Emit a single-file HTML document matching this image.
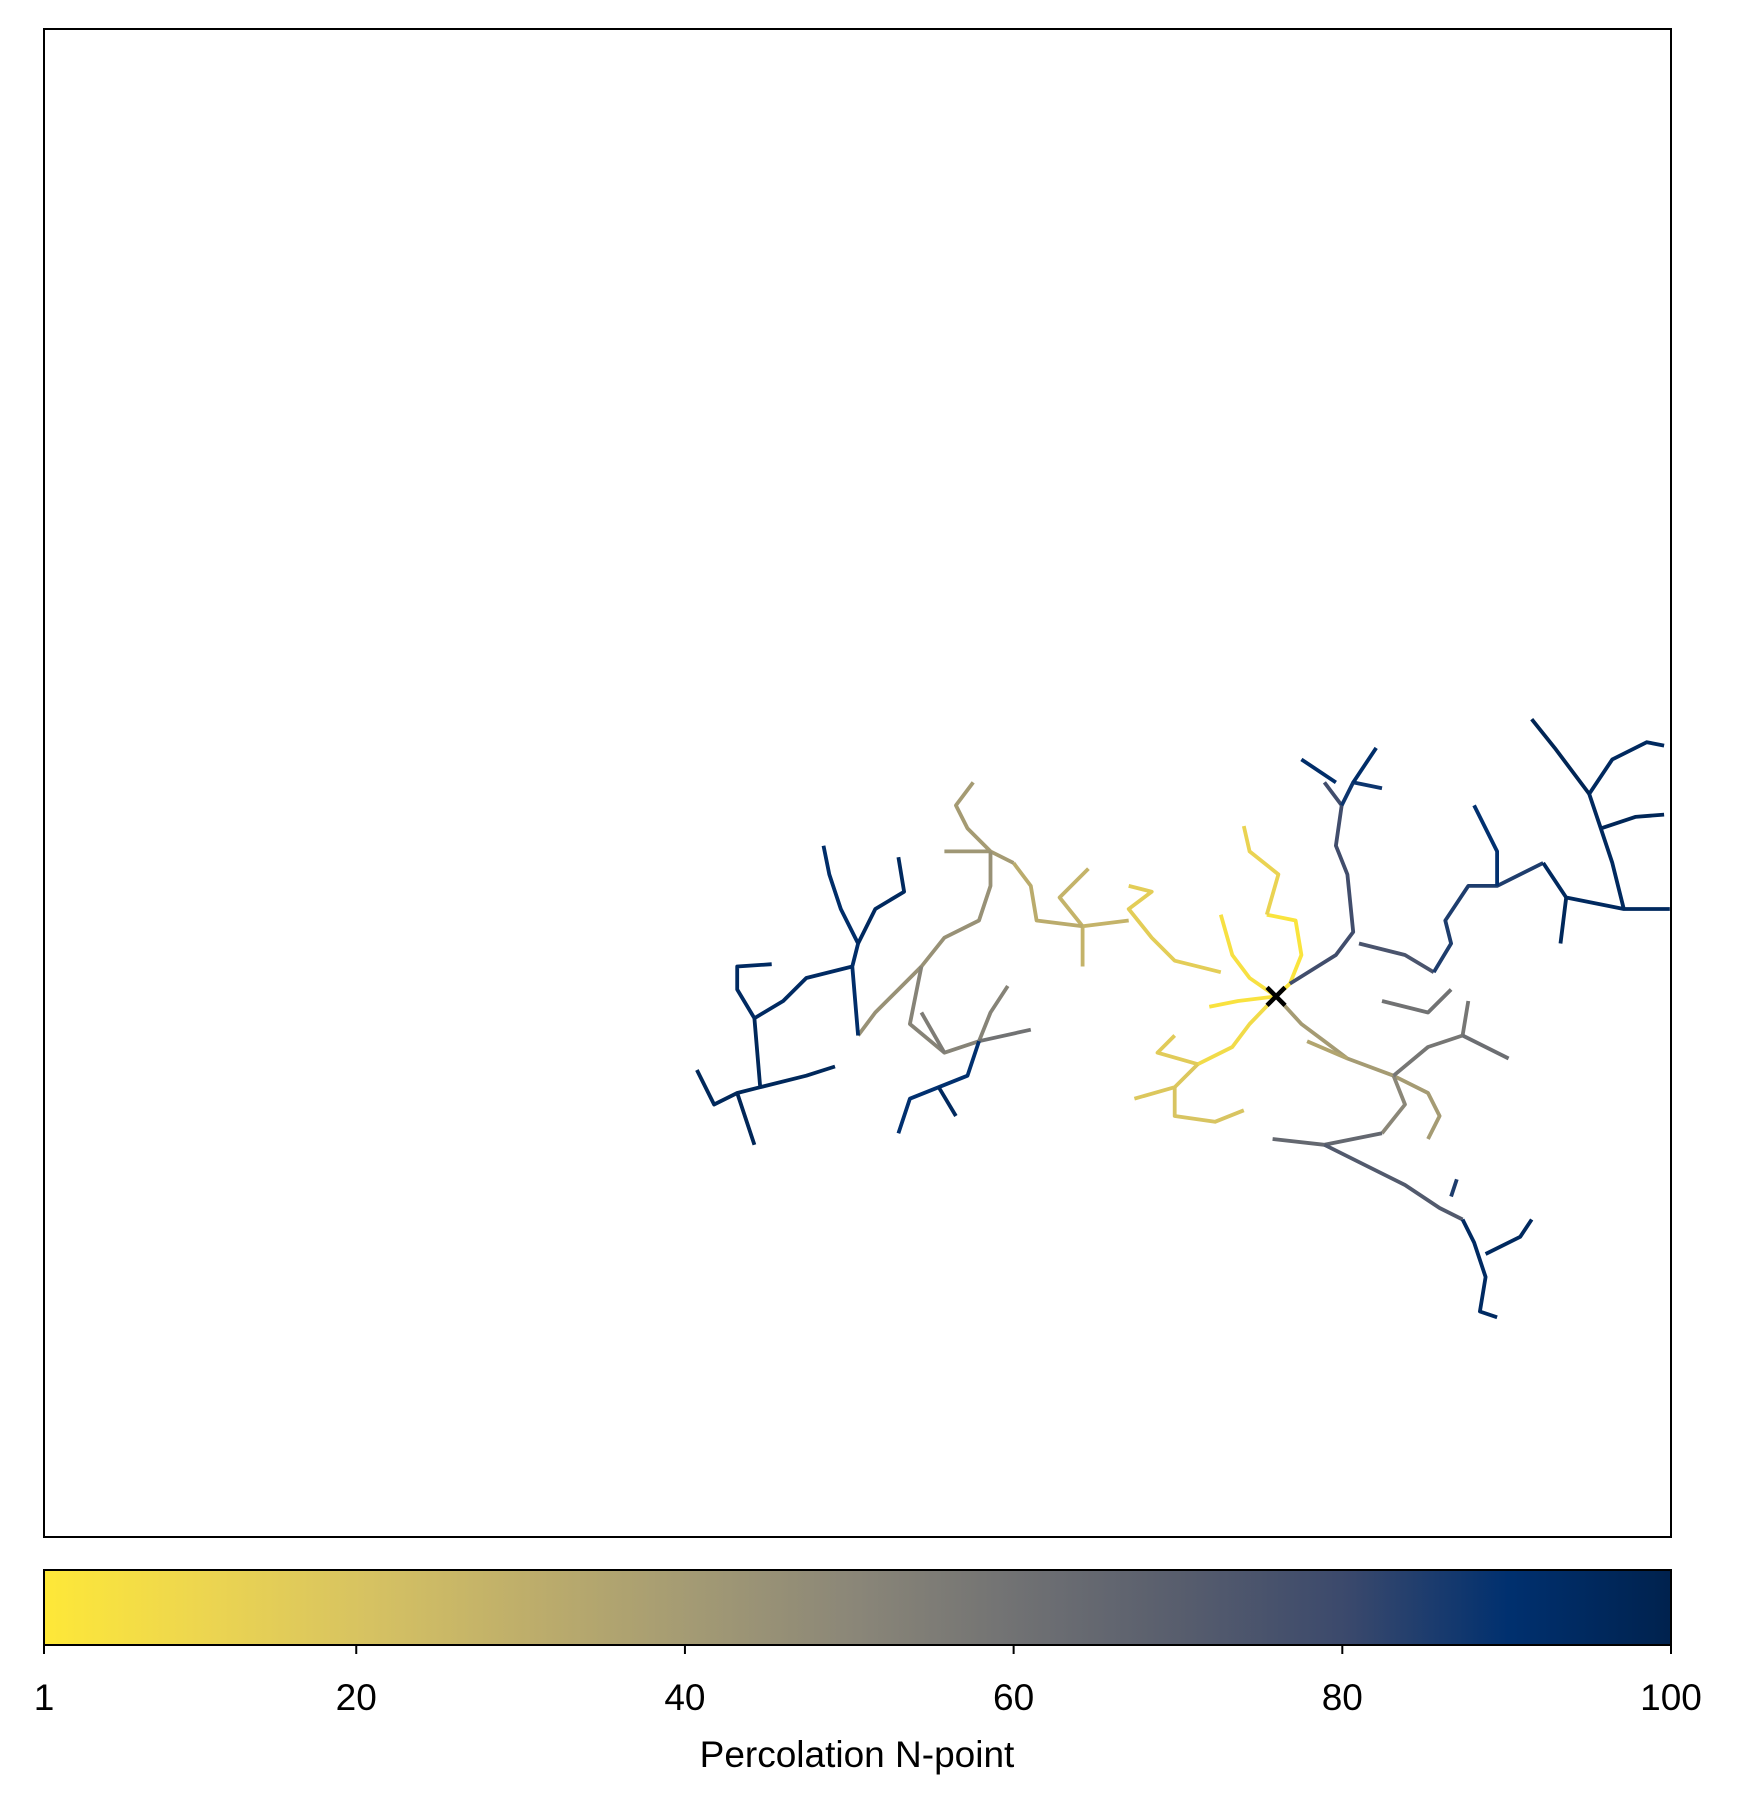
<!DOCTYPE html>
<html><head><meta charset="utf-8"><style>
html,body{margin:0;padding:0;background:#fff;}
svg{display:block;font-family:"Liberation Sans","DejaVu Sans",sans-serif;}
</style></head><body>
<svg id="chart" width="1740" height="1806" viewBox="0 0 1740 1806" xmlns="http://www.w3.org/2000/svg">
<defs>
<linearGradient id="cmap" x1="0" x2="1" y1="0" y2="0">
<stop offset="0" stop-color="#fee838"/>
<stop offset="0.1" stop-color="#ecd550"/>
<stop offset="0.2" stop-color="#d6c262"/>
<stop offset="0.3" stop-color="#bdad6b"/>
<stop offset="0.4" stop-color="#a39a74"/>
<stop offset="0.5" stop-color="#8a8678"/>
<stop offset="0.6" stop-color="#707173"/>
<stop offset="0.7" stop-color="#575d6d"/>
<stop offset="0.8" stop-color="#3b496c"/>
<stop offset="0.9" stop-color="#00306f"/>
<stop offset="1" stop-color="#00224e"/>
</linearGradient>
</defs>
<g id="tree"></g>
<rect x="44" y="29" width="1627" height="1508" fill="none" stroke="#000" stroke-width="2"/>
<g id="marker"></g>
<rect x="44" y="1570" width="1627" height="75" fill="url(#cmap)" stroke="#000" stroke-width="2"/>
<g id="cbticks"></g>
<text x="857" y="1767" font-size="37" text-anchor="middle">Percolation N-point</text>
</svg>
<script>
// data units: x 0..1413, y 0..1311 (original plot coordinates)
const seedPoint = [1070, 470];
const branchValues = [3,5,4,12,8,18,20,16,15,28,28,32,40,42,45,52,60,55,92,95,94,96,97,96,90,95,40,50,35,78,88,92,92,75,85,90,95,96,95,98,97,65,72,94,95,85,58,62,60];
const branchPoints = [
[1070,470,1082,481,1092,506,1087,536,1062,541],
[1070,470,1047,486,1032,506,1022,541],
[1070,470,1037,466,1012,461],
[1062,541,1072,576,1047,596,1042,618],
[1070,470,1047,446,1032,426,1002,411],
[1002,411,982,391,947,381],
[982,391,982,366,1017,361,1042,371],
[1002,411,967,421,982,436],
[1022,491,982,501,962,521,942,546,962,561,942,566],
[942,536,902,531,902,496],
[902,531,882,556,907,581],
[902,531,862,536,857,566,842,586],
[842,586,822,596,802,616,792,636,807,656],
[822,596,782,596],
[822,596,822,566,812,536,782,521,762,496,742,476,722,456,707,436],
[762,496,752,446,782,421,812,431,822,456,837,479],
[812,431,857,441],
[782,421,762,456],
[707,436,702,496,707,516,692,546,682,576,677,601],
[707,516,722,546,747,561,742,591],
[702,496,662,486,642,466,617,451,602,476,602,496,632,498],
[617,451,622,391,602,386,582,376,567,406],
[602,386,617,341],
[622,391,662,401,687,409],
[812,431,802,401,777,391,752,381,742,351],
[777,391,792,366],
[1070,470,1092,446,1112,431,1132,416,1172,401,1202,386,1212,366,1202,346],
[1172,401,1182,376,1162,351],
[1132,416,1097,431],
[1082,481,1122,506,1137,526,1132,576,1122,601,1127,636,1112,656],
[1127,636,1137,656,1162,651],
[1122,656,1092,676],
[1137,656,1157,686],
[1142,516,1182,506,1207,491],
[1207,491,1222,516,1217,536,1237,566,1262,566,1302,586],
[1262,566,1262,596,1242,636],
[1302,586,1322,556,1372,546,1412,546],
[1322,556,1317,516],
[1372,546,1362,586,1352,616,1342,646,1362,676,1392,691,1407,688],
[1342,646,1312,686,1292,711],
[1352,616,1382,626,1407,628],
[1162,351,1112,341,1067,346],
[1112,341,1152,321,1182,306,1212,286,1232,276],
[1232,276,1242,256,1252,226,1247,196,1262,191],
[1252,246,1282,261,1292,276],
[1222,296,1227,311],
[1172,401,1202,426,1232,436,1237,466],
[1232,436,1272,416],
[1162,466,1202,456,1222,476]
];
const tickValues = [1,20,40,60,80,100];
const tickLabels = ["1","20","40","60","80","100"];

const NS="http://www.w3.org/2000/svg";
const PX0=44, PX1=1671, PY0=1537, PY1=29;
const sx=v=>PX0+(v/1413)*(PX1-PX0);
const sy=v=>PY0-(v/1311)*(PY0-PY1);
const cbx=v=>44+(v-1)/99*1627;
const stops=[[254,232,56],[236,213,80],[214,194,98],[189,173,107],[163,154,116],[138,134,120],[112,113,115],[87,93,109],[59,73,108],[0,48,111],[0,34,78]];
function color(v){let t=(v-1)/99*10;let i=Math.min(9,Math.floor(t)),f=t-i;
 const a=stops[i],b=stops[i+1];return 'rgb('+a.map((c,k)=>Math.round(c+(b[k]-c)*f)).join(',')+')';}
const tree=document.getElementById('tree');
branchPoints.forEach((pts,i)=>{
 const p=document.createElementNS(NS,'polyline');
 let s=[];for(let k=0;k<pts.length;k+=2)s.push(sx(pts[k]).toFixed(1)+','+sy(pts[k+1]).toFixed(1));
 p.setAttribute('points',s.join(' '));
 p.setAttribute('fill','none');p.setAttribute('stroke',color(branchValues[i]));
 p.setAttribute('stroke-width','3.8');p.setAttribute('stroke-linejoin','round');
 
 
 tree.appendChild(p);
});
const m=document.getElementById('marker');
const mx=sx(seedPoint[0]),my=sy(seedPoint[1]);
[[-9,-9,9,9],[-9,9,9,-9]].forEach(d=>{
 const l=document.createElementNS(NS,'line');
 l.setAttribute('x1',mx+d[0]);l.setAttribute('y1',my+d[1]);l.setAttribute('x2',mx+d[2]);l.setAttribute('y2',my+d[3]);
 l.setAttribute('stroke','#000');l.setAttribute('stroke-width','4.5');
 
 
 m.appendChild(l);
});
const tg=document.getElementById('cbticks');
tickValues.forEach((v,i)=>{
 const x=cbx(v);
 const l=document.createElementNS(NS,'line');
 l.setAttribute('x1',x);l.setAttribute('x2',x);l.setAttribute('y1',1645);l.setAttribute('y2',1654);
 l.setAttribute('stroke','#000');l.setAttribute('stroke-width','2');
 
 
 tg.appendChild(l);
 const t=document.createElementNS(NS,'text');
 t.setAttribute('x',x);t.setAttribute('y',1710);t.setAttribute('font-size','37');t.setAttribute('text-anchor','middle');
 t.textContent=tickLabels[i];
 
 
 tg.appendChild(t);
});
</script>
</body></html>
